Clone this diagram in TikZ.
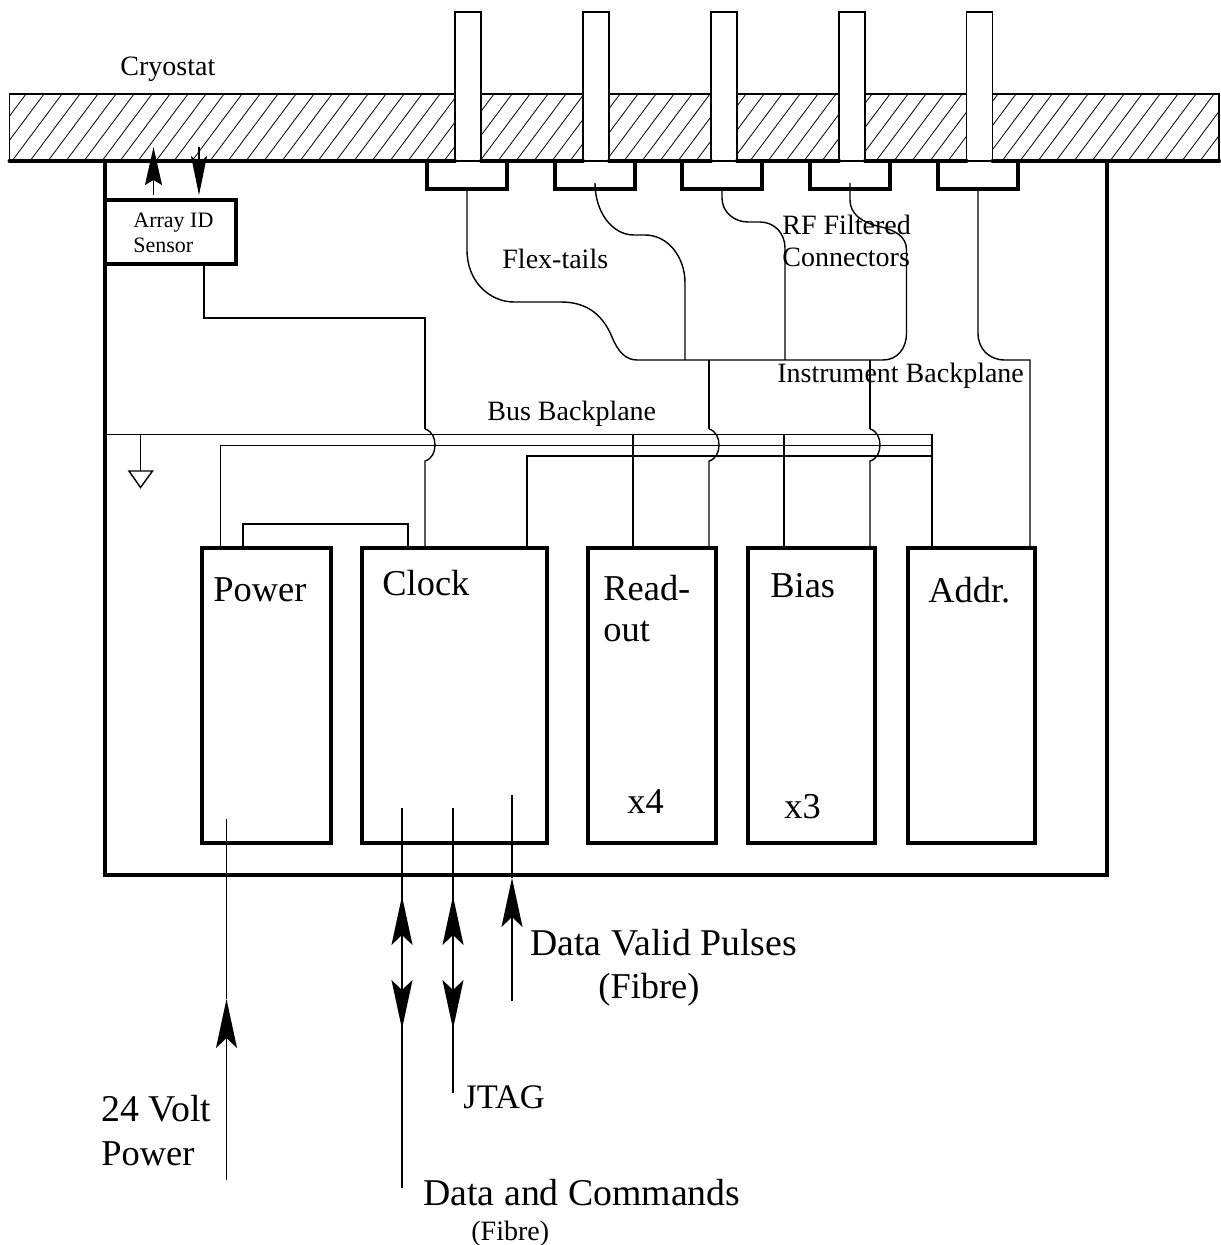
\documentclass[tikz,border=0pt]{standalone}
\usepackage{fontspec}
\setmainfont{Liberation Serif}
\usetikzlibrary{arrows.meta}
\tikzset{
  wire/.style={line width=0.7pt, draw=black},
  hatch/.style={line width=0.4pt, draw=black},
  wall/.style={line width=2pt, draw=black, line cap=round},
  flow/.style={wire, -{Stealth[length=24.5pt, width=10.5pt, inset=5pt]}},
  upflow/.style={wire, -{Stealth[length=19pt, width=8.5pt, inset=2.5pt]}},
  downflow/.style={wire, -{Stealth[length=19.5pt, width=8pt, inset=3.5pt]}},
  plate/.style={wire, minimum width=604.75pt, minimum height=33.5pt, inner sep=0pt, outer sep=0pt},
  pinbox/.style={wire, fill=white, minimum width=13pt, minimum height=74.5pt, inner sep=0pt, outer sep=0pt},
  connbox/.style={minimum width=40pt, minimum height=14pt, inner sep=0pt, outer sep=0pt},
  cardbox/.style={wall, line cap=butt, fill=white, minimum height=147.5pt, inner sep=0pt, outer sep=0pt},
  sensorbox/.style={wall, line cap=butt, fill=white, minimum width=65.5pt, minimum height=32pt, inner sep=0pt, outer sep=0pt},
  lab/.style={font=\fontsize{14}{16}\selectfont, anchor=base west, inner sep=0pt},
  biglab/.style={font=\fontsize{18.2}{20}\selectfont, anchor=base west, inner sep=0pt},
  widelab/.style={font=\fontsize{18.9}{20}\selectfont, anchor=base west, inner sep=0pt},
  tinylab/.style={font=\fontsize{11}{12}\selectfont, anchor=base west, inner sep=0pt},
}
\begin{document}
\begin{tikzpicture}[x=0.5pt, y=-0.5pt]
\useasboundingbox (0,0) rectangle (1220,1245);

% ---- cryostat wall and feed-throughs --------------------------------
\node[plate] (cryostat) at (614.25,127.5) {};
\begin{scope}
  \clip (cryostat.south west) rectangle (cryostat.north east);
  \foreach \x in {-42,-24,...,1230}
    \draw[hatch] (\x,161) -- (\x+50,94);
\end{scope}
\foreach \n/\x in {1/468,2/596,3/724,4/852,5/979.5}
  \node[pinbox] (pin\n) at (\x,86.5) {};
\coordinate (wallL) at (9.5,161);
\coordinate (wallR) at (1219,161);
\draw[wall] (wallL) -- (pin1.south west);
\foreach \a/\b in {1/2,2/3,3/4,4/5}
  \draw[wall] (pin\a.south east) -- (pin\b.south west);
\draw[wall] (pin5.south east) -- (wallR);

% ---- connectors -----------------------------------------------------
\foreach \n/\x in {1/467,2/595,3/722,4/850,5/978} {
  \node[connbox] (conn\n) at (\x,175) {};
  \draw[wall] (conn\n.north west) -- (conn\n.south west) -- (conn\n.south east) -- (conn\n.north east);
}

% ---- enclosure ------------------------------------------------------
\coordinate (caseL) at (105,161);
\coordinate (caseR) at (1106.5,161);
\draw[wall] (caseL) -- (105,875) -- (1106.5,875) -- (caseR);

% ---- cards ----------------------------------------------------------
\node[cardbox, minimum width=64.5pt] (power) at (266.5,695.5) {};
\node[cardbox, minimum width=92.5pt] (clock) at (454.5,695.5) {};
\node[cardbox, minimum width=64pt]   (readout) at (652,695.5) {};
\node[cardbox, minimum width=63.5pt] (bias) at (811.5,695.5) {};
\node[cardbox, minimum width=63.5pt] (addr) at (971,695.5) {};
\node[sensorbox] (sensor) at (170.5,232) {};

\foreach \n/\x in {pwrA/220.5,pwrB/243,clkA/408,clkB/425,clkC/527,rdA/633,rdB/709,bsA/784,bsB/870,adA/932,adB/1030}
  \coordinate (\n) at (\x,548);
\coordinate (bus0) at (932,434.5);
\coordinate (bus1) at (932,445.5);
\coordinate (bus2) at (932,456);
\coordinate (bpL) at (637,360);
\coordinate (bpR) at (883,360);
\coordinate (snsout) at (204,264);
\coordinate (gnd) at (140.5,471);

% ---- bus backplane --------------------------------------------------
\draw[wire] (105,434.5) -- (bus0) -- (adA);
\draw[wire] (pwrA) |- (bus1);
\draw[wire] (clkC) |- (bus2);
\draw[wire] (pwrB) |- (408,524) -- (clkA);
\draw[wire] (rdA) -- (rdA |- bus0);
\draw[wire] (bsA) -- (bsA |- bus0);
\draw[wire] (gnd |- bus0) -- (gnd);
\draw[wire] (129,471) -- (152.5,471) -- (140.5,487.5) -- cycle;

% ---- hops over the bus ----------------------------------------------
\foreach \x/\c in {425/clkB,709/rdB,870/bsB} {
  \draw[wire] (\x,429) .. controls (\x+7,431) and (\x+10,438) .. (\x+10,445)
              .. controls (\x+10,452) and (\x+7,459) .. (\x,461) -- (\c);
}
\draw[wire] (snsout) |- (425,318) -- (425,429);
\draw[wire] (709,360) -- (709,429);
\draw[wire] (870,360) -- (870,429);

% ---- flex-tails -----------------------------------------------------
\draw[wire] (conn1.south) -- (467,250) .. controls (467,282) and (490,302) .. (514,302)
            -- (561,302) .. controls (590,302) and (604,318) .. (612,337)
            .. controls (618,352) and (626,360) .. (bpL) -- (bpR);
\draw[wire] ([yshift=3pt]conn2.south) .. controls (595,212) and (612,235) .. (634,235)
            -- (645,235) .. controls (668,235) and (685,257) .. (685,283) -- (685,360);
\draw[wire] (conn3.south) -- (722,198) .. controls (722,212) and (734,222) .. (748,222)
            -- (760,222) .. controls (774,222) and (785,233) .. (785,248) -- (785,360);
\draw[wire] ([yshift=3pt]conn4.south) -- (850,200) .. controls (850,214) and (862,222) .. (877,226)
            .. controls (895,230) and (906.5,236) .. (906.5,250) -- (906.5,333)
            .. controls (906.5,349) and (897,360) .. (bpR);
\draw[wire] (conn5.south) -- (978,333) .. controls (978,349) and (989,360) .. (1005,360)
            -- (1030,360) -- (adB);

% ---- arrows ---------------------------------------------------------
\draw[upflow] (153.5,195) -- (153.5,147);
\draw[downflow] (199,147) -- (199,195);
\coordinate (pwrtip) at (226.5,999);
\coordinate (pwrtop) at (226.5,819);
\coordinate (pwrend) at (226.5,1180);
\draw[wire] (pwrtop) -- (pwrtip);
\draw[flow] (pwrend) -- (pwrtip);
\foreach \n/\x/\e in {dat/402/1188,jtag/453/1093} {
  \coordinate (\n top) at (\x,808);
  \coordinate (\n up) at (\x,896);
  \coordinate (\n dn) at (\x,1029);
  \coordinate (\n end) at (\x,\e);
  \draw[wire] (\n top) -- (\n up);
  \draw[flow] (\n dn) -- (\n up);
  \draw[flow] (\n up) -- (\n dn);
  \draw[wire] (\n dn) -- (\n end);
}
\coordinate (dvtop) at (512,795);
\coordinate (dvtip) at (512,878);
\coordinate (dvend) at (512,1001);
\draw[wire] (dvtop) -- (dvtip);
\draw[flow] (dvend) -- (dvtip);

% ---- labels ---------------------------------------------------------
\node[lab] (lcryo) at (120,76) {Cryostat};
\node[tinylab] (larray) at (133,228) {Array ID};
\node[tinylab] (lsens) at (133,253) {Sensor};
\node[lab] (lflex) at (502,269) {Flex-tails};
\node[lab] (lrf) at (782,235) {RF Filtered};
\node[lab] (lconn) at (782,267) {Connectors};
\node[lab] (linst) at (777,383) {Instrument Backplane};
\node[lab] (lbus) at (487,420) {Bus Backplane};
\node[biglab] (lpower) at (213,601) {Power};
\node[biglab] (lclock) at (382,595) {Clock};
\node[biglab] (lread) at (603,600) {Read-};
\node[biglab] (lout) at (603,641) {out};
\node[biglab] (lbias) at (770,597) {Bias};
\node[biglab] (laddr) at (928,602) {Addr.};
\node[biglab] (lx4) at (627,813) {x4};
\node[biglab] (lx3) at (784,818) {x3};
\node[widelab] (lvalid) at (530,955) {Data Valid Pulses};
\node[biglab] (lfib) at (598,998) {(Fibre)};
\node[widelab] (lvolt) at (101,1121) {24 Volt};
\node[biglab] (lvpow) at (101,1165) {Power};
\node[biglab, font=\fontsize{17.2}{18}\selectfont] (ljtag) at (463,1108) {JTAG};
\node[widelab] (ldata) at (423,1205) {Data and Commands};
\node[lab] (lfib2) at (471,1240) {(Fibre)};
\end{tikzpicture}
\end{document}
